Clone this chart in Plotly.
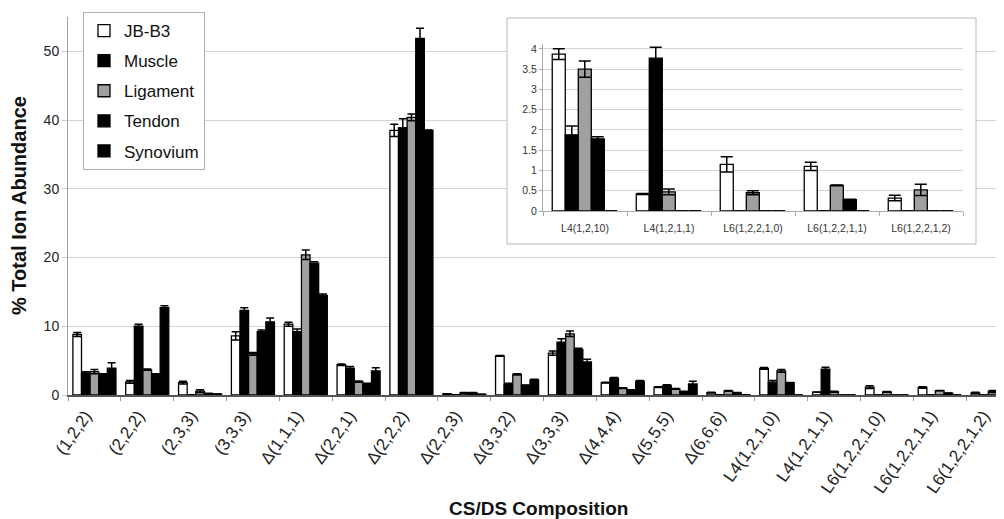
import plotly.graph_objects as go

categories = ["(1,2,2)", "(2,2,2)", "(2,3,3)", "(3,3,3)", "Δ(1,1,1)", "Δ(2,2,1)",
              "Δ(2,2,2)", "Δ(2,2,3)", "Δ(3,3,2)", "Δ(3,3,3)", "Δ(4,4,4)", "Δ(5,5,5)",
              "Δ(6,6,6)", "L4(1,2,1,0)", "L4(1,2,1,1)", "L6(1,2,2,1,0)", "L6(1,2,2,1,1)",
              "L6(1,2,2,1,2)"]
inset_labels = ["L4(1,2,10)", "L4(1,2,1,1)", "L6(1,2,2,1,0)", "L6(1,2,2,1,1)", "L6(1,2,2,1,2)"]

jb = [8.8, 1.9, 1.8, 8.6, 10.3, 4.4, 38.5, 0.15, 5.7, 6.1, 1.8, 1.15, 0.35, 3.87, 0.42, 1.15, 1.1, 0.32]
jb_err = [0.3, 0.2, 0.2, 0.6, 0.3, 0.1, 0.9, 0.05, 0.05, 0.3, 0.05, 0.05, 0.05, 0.13, 0.01, 0.19, 0.1, 0.07]
muscle = [3.2, 10.0, 0.05, 12.3, 9.2, 3.9, 38.9, 0.05, 1.5, 7.7, 2.45, 1.4, 0.05, 1.88, 3.77, 0.0, 0.0, 0.0]
muscle_err = [0.2, 0.3, 0.0, 0.4, 0.4, 0.25, 1.3, 0.0, 0.2, 0.5, 0.1, 0.1, 0.0, 0.22, 0.27, 0.0, 0.0, 0.0]
ligament = [3.4, 3.7, 0.55, 6.0, 20.4, 1.95, 40.4, 0.3, 3.0, 8.9, 1.0, 0.9, 0.6, 3.5, 0.47, 0.45, 0.63, 0.52]
ligament_err = [0.3, 0.1, 0.2, 0.2, 0.7, 0.1, 0.5, 0.05, 0.1, 0.4, 0.05, 0.05, 0.05, 0.2, 0.07, 0.05, 0.01, 0.14]
tendon = [3.0, 3.0, 0.2, 9.2, 19.2, 1.6, 51.9, 0.3, 1.4, 6.6, 0.7, 0.5, 0.3, 1.78, 0.0, 0.0, 0.28, 0.0]
tendon_err = [0.1, 0.1, 0.05, 0.25, 0.2, 0.1, 1.45, 0.05, 0.05, 0.2, 0.05, 0.05, 0.05, 0.05, 0.0, 0.0, 0.01, 0.0]
synovium = [3.9, 12.7, 0.15, 10.65, 14.5, 3.5, 38.5, 0.1, 2.2, 4.8, 2.0, 1.6, 0.05, 0.0, 0.0, 0.0, 0.0, 0.0]
synovium_err = [0.8, 0.3, 0.0, 0.55, 0.2, 0.45, 0.05, 0.0, 0.1, 0.4, 0.1, 0.4, 0.0, 0.0, 0.0, 0.0, 0.0, 0.0]

series = [
    ("JB-B3", jb, jb_err, "white"),
    ("Muscle", muscle, muscle_err, "black"),
    ("Ligament", ligament, ligament_err, "#a0a0a0"),
    ("Tendon", tendon, tendon_err, "black"),
    ("Synovium", synovium, synovium_err, "black"),
]

FONT = "Liberation Sans, Arial, sans-serif"
fig = go.Figure()

main_w = 0.163
for i, (name, vals, errs, col) in enumerate(series):
    fig.add_trace(go.Bar(
        x=categories, y=vals, name=name, legendgroup=name,
        marker=dict(color=col, line=dict(color="black", width=1.3)),
        width=main_w, offset=-2.5 * main_w + i * main_w,
        error_y=dict(type="data", array=errs, color="black", thickness=1.5, width=4),
        xaxis="x", yaxis="y",
    ))

# empty cover subplot (white background under the inset box)
fig.add_trace(go.Scatter(x=[], y=[], xaxis="x2", yaxis="y2", showlegend=False, hoverinfo="skip"))

n_in = len(inset_labels)
in_w = 0.155
for i, (name, vals, errs, col) in enumerate(series):
    fig.add_trace(go.Bar(
        x=inset_labels, y=vals[-n_in:], name=name, showlegend=False,
        marker=dict(color=col, line=dict(color="black", width=1.3)),
        width=in_w, offset=-0.39 + i * in_w,
        error_y=dict(type="data", array=errs[-n_in:], color="black", thickness=1.5, width=6),
        xaxis="x3", yaxis="y3",
    ))

# page has an 8px body margin: figure is drawn 8px right/down in the window
OFF = 8
W, H = 1004 - OFF, 519 - OFF
L, R, T = 68 - OFF, 0, 17 - OFF
B = H - (395 - OFF)
pw, ph = W - L - R, H - T - B

def px(xp):
    return (xp - OFF - L) / pw

def py(yp):
    return (H - B - (yp - OFF)) / ph

fig.update_layout(
    width=W, height=H,
    margin=dict(l=L, r=R, t=T, b=B, pad=0),
    paper_bgcolor="white", plot_bgcolor="white",
    barmode="group",
    font=dict(family=FONT, color="#222"),
    showlegend=True,
    legend=dict(x=px(83), y=py(12), xanchor="left", yanchor="top",
                bgcolor="white", bordercolor="#b0b0b0", borderwidth=1,
                font=dict(size=17, family=FONT, color="#111"),
                traceorder="grouped", tracegroupgap=5,
                itemwidth=30),
    xaxis=dict(
        domain=[0, 1], range=[-0.5, 17.5 - 15 / 52.8],
        type="category", tickangle=-55, tickfont=dict(size=17, color="#222"),
        ticklabelshift=-9, ticklabelstandoff=2,
        showline=True, linecolor="#555", linewidth=2,
        ticks="outside", tickson="boundaries", ticklen=4, tickcolor="#999",
        showgrid=False, fixedrange=True,
    ),
    yaxis=dict(
        domain=[0, 1], range=[0, 55], dtick=10, tickfont=dict(size=14, color="#222"),
        showline=True, linecolor="#a0a0a0", linewidth=1,
        ticks="outside", ticklen=5, tickcolor="#c8c8c8",
        showgrid=True, gridcolor="#d4d4d4", gridwidth=1, zeroline=False,
    ),
    xaxis2=dict(domain=[px(507), px(976)], anchor="y2", visible=False, showgrid=False),
    yaxis2=dict(domain=[py(244), py(18)], anchor="x2", visible=False, showgrid=False),
    xaxis3=dict(
        domain=[px(543), px(963)], anchor="y3", type="category",
        tickangle=0, tickfont=dict(size=10.5, color="#333"),
        showline=True, linecolor="#aaa", linewidth=1,
        ticks="outside", tickson="boundaries", ticklen=4, tickcolor="#aaa",
        ticklabelstandoff=7,
        showgrid=False,
    ),
    yaxis3=dict(
        domain=[py(211), py(44)], anchor="x3", range=[0, 4.12], dtick=0.5,
        tickfont=dict(size=10.5, color="#333"),
        showline=True, linecolor="#aaa", linewidth=1,
        ticks="outside", ticklen=3, tickcolor="#aaa",
        showgrid=True, gridcolor="#d4d4d4", zeroline=False,
    ),
    shapes=[dict(type="rect", xref="paper", yref="paper",
                 x0=px(507), x1=px(976), y0=py(244), y1=py(18),
                 line=dict(color="#b8b8b8", width=1), fillcolor="rgba(0,0,0,0)",
                 layer="above")],
    annotations=[
        dict(text="<b>% Total Ion Abundance</b>", xref="paper", yref="paper",
             x=px(19), y=py(206), xanchor="center", yanchor="middle",
             textangle=-90, showarrow=False,
             font=dict(size=20, family=FONT, color="#111")),
        dict(text="<b>CS/DS Composition</b>", xref="paper", yref="paper",
             x=px(538), y=py(508), xanchor="center", yanchor="middle", showarrow=False,
             font=dict(size=19, family=FONT, color="#111")),
    ],
)

fig.write_html("out.html")
